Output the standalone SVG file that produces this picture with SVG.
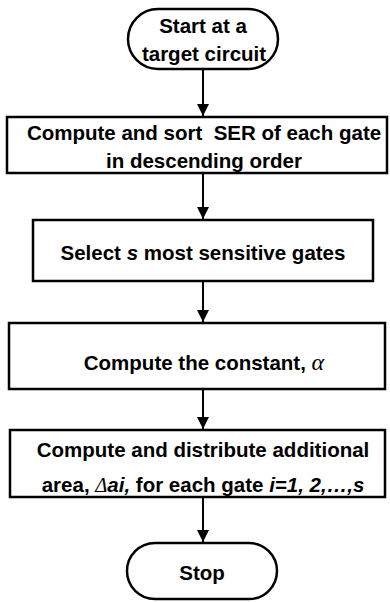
<svg xmlns="http://www.w3.org/2000/svg" width="390" height="602" viewBox="0 0 390 602">
  <defs>
    <marker id="arrow" viewBox="0 0 12 17" refX="12" refY="6" markerWidth="12" markerHeight="17" markerUnits="userSpaceOnUse" orient="auto">
      <path d="M0,0 L12,6 L0,12 Z" fill="#000"/>
    </marker>
    <style>
      .shape { fill: #fff; stroke: #000; stroke-width: 2.5; }
      .edge { stroke: #000; stroke-width: 2; fill: none; marker-end: url(#arrow); }
      .label { font-family: "Liberation Sans", Arial, sans-serif; font-weight: bold; font-size: 20.5px; fill: #000; text-anchor: middle; }
      .it { font-style: italic; }
      .greek { font-family: "Liberation Serif", "Times New Roman", serif; font-style: italic; font-weight: normal; }
    </style>
  </defs>

  <g id="connectors">
    <line class="edge" x1="203" y1="70" x2="203" y2="116"/>
    <line class="edge" x1="203" y1="174" x2="203" y2="219"/>
    <line class="edge" x1="203" y1="282" x2="203" y2="322"/>
    <line class="edge" x1="203" y1="390" x2="203" y2="429"/>
    <line class="edge" x1="203" y1="498" x2="203" y2="542"/>
  </g>

  <g id="start">
    <rect class="shape" x="128" y="9" width="150" height="60" rx="30" ry="30"/>
    <text class="label" x="203" y="33">Start at a</text>
    <text class="label" x="204" y="61">target circuit</text>
  </g>

  <g id="sort-ser">
    <rect class="shape" x="7" y="117" width="380" height="56"/>
    <text class="label" x="204" y="140">Compute and sort&#160; SER of each gate</text>
    <text class="label" x="204" y="168">in descending order</text>
  </g>

  <g id="select-gates">
    <rect class="shape" x="33" y="220" width="340" height="61"/>
    <text class="label" x="203" y="260">Select <tspan class="it">s</tspan> most sensitive gates</text>
  </g>

  <g id="constant">
    <rect class="shape" x="9" y="323" width="376" height="66"/>
    <text class="label" x="204" y="370">Compute the constant, <tspan class="greek" font-size="24px">α</tspan></text>
  </g>

  <g id="distribute-area">
    <rect class="shape" x="10" y="430" width="375" height="67"/>
    <text class="label" x="203" y="457">Compute and distribute additional</text>
    <text class="label" x="203" y="492">area, <tspan class="greek">Δ</tspan><tspan class="it">ai,</tspan> for each gate <tspan class="it">i=1, 2,…,s</tspan></text>
  </g>

  <g id="stop">
    <rect class="shape" x="127" y="543" width="150" height="56" rx="28" ry="28"/>
    <text class="label" x="202" y="580">Stop</text>
  </g>
</svg>
